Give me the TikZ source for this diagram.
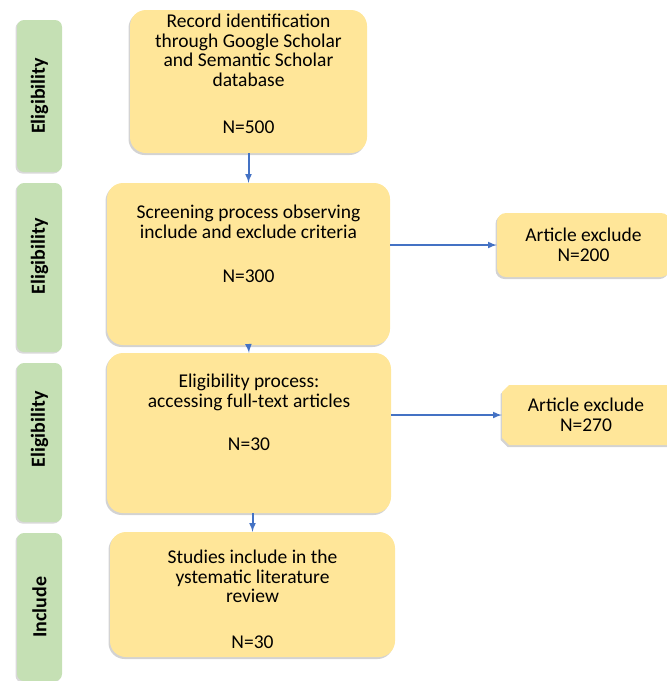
\documentclass[tikz,border=0pt]{standalone}
\usepackage{fontspec}
\setmainfont{Carlito}
\usetikzlibrary{positioning,shadows,shapes.misc,arrows}

\definecolor{stageyellow}{HTML}{FFE699}
\definecolor{phasegreen}{HTML}{C5E0B4}
\definecolor{flowblue}{HTML}{4472C4}

\begin{document}
\begin{tikzpicture}[x=1pt,y=-1pt,
		stage/.style={fill=stageyellow, rounded corners=16pt, inner sep=0pt,
			drop shadow={shadow xshift=-1.5pt,shadow yshift=-2pt,opacity=.35}},
		phase/.style={fill=phasegreen, rounded corners=7pt, inner sep=0pt, minimum width=45pt,
			drop shadow={shadow xshift=-1.5pt,shadow yshift=-1.5pt,opacity=.3}},
		phaselabel/.style={rotate=90, inner sep=0pt, font=\fontsize{20}{22}\selectfont\bfseries},
		txt/.style={align=center, inner sep=0pt, font=\fontsize{19.5}{19.7}\selectfont},
		flow/.style={draw=flowblue, line width=2pt, -latex}]
	\useasboundingbox (0,0) rectangle (667,681);

	% side bars
	\node[phase, minimum height=152pt] (bar1) at (39.5,96) {};
	\node[phase, minimum height=169pt] (bar2) at (39.5,267.5) {};
	\node[phase, minimum height=159pt] (bar3) at (39.5,442.5) {};
	\node[phase, minimum height=148pt] (bar4) at (39.5,607) {};
	\node[phaselabel] (lab1) at (bar1) {Eligibility};
	\node[phaselabel] (lab2) at ([yshift=11pt]bar2.center) {Eligibility};
	\node[phaselabel] (lab3) at ([yshift=13pt]bar3.center) {Eligibility};
	\node[phaselabel] (lab4) at (bar4) {Include};

	% main boxes
	\node[stage, minimum width=237pt, minimum height=143pt] (rec) at (248.5,81.5) {};
	\node[stage, minimum width=283pt, minimum height=162pt] (screen) at (248.5,264) {};
	\node[stage, minimum width=284pt, minimum height=160pt] (elig) at (249,433) {};
	\node[stage, minimum width=285pt, minimum height=125pt] (incl) at (252.5,594.5) {};

	\node[txt, below=4pt of rec.north] (rec-txt)
		{Record identification\\through Google Scholar\\and Semantic Scholar\\database\\[27pt]N=500};
	\node[txt, below=22pt of screen.north] (screen-txt)
		{Screening process observing\\include and exclude criteria\\[25pt]N=300};
	\node[txt, below=21pt of elig.north] (elig-txt)
		{Eligibility process:\\accessing full-text articles\\[24pt]N=30};
	\node[txt, below=18pt of incl.north] (incl-txt)
		{Studies include in the\\ystematic literature\\review\\[26pt]N=30};

	% excluded
	\node[stage, txt, rounded corners=9pt, minimum width=173pt, minimum height=64pt] (excl1) at (583.5,245)
		{Article exclude\\N=200};
	\node[stage, txt, sharp corners, chamfered rectangle, chamfered rectangle corners={north west,south west},
		chamfered rectangle xsep=4pt, minimum width=168pt, minimum height=60pt] (excl2) at (586,415)
		{Article exclude\\N=270};

	\draw[flow] (rec.south)--(screen.north);
	\draw[flow] (screen.south)--(elig.north);
	\draw[flow] (elig.south -| incl.north)--(incl.north);
	\draw[flow] (excl1.west -| screen.east)--(excl1.west);
	\draw[flow] (excl2.west -| elig.east)--(excl2.west);
\end{tikzpicture}
\end{document}
